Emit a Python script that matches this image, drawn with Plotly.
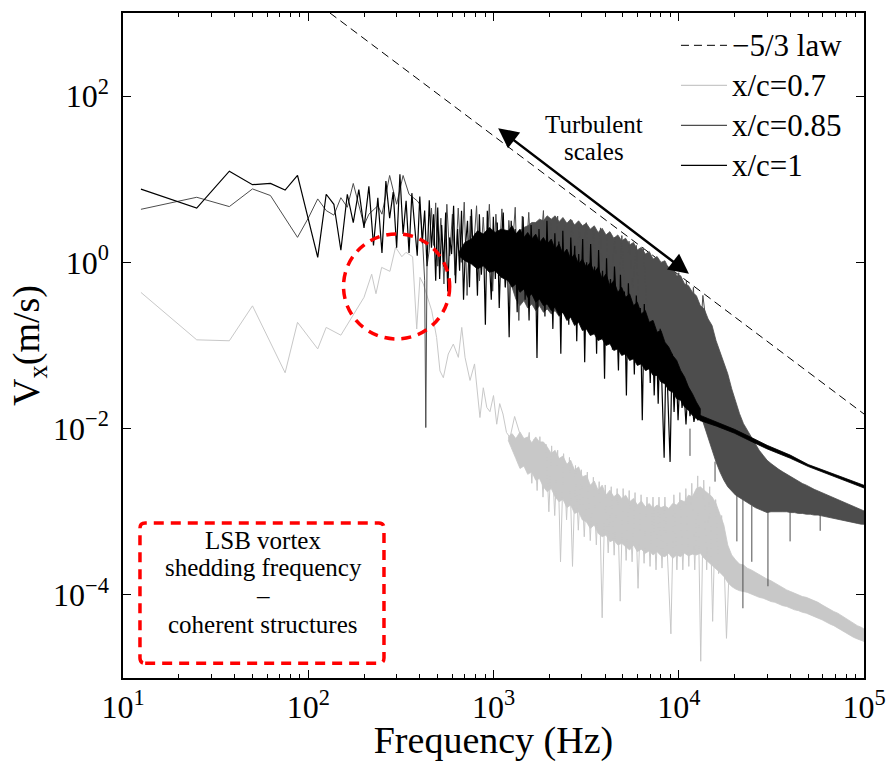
import numpy as np
import plotly.graph_objects as go

# ---------------- data ----------------
# -5/3 law reference line (end points)
law_f = [131, 100000]
law_v = [1000, 0.0150]

# frequency grid of the mid range (Hz) for the x/c=0.85 zig-zag
f_mid = [520, 540, 560, 580, 600, 620, 645, 670, 695, 720, 750, 780, 810, 840, 880, 910, 950, 990,
         1030, 1070, 1110, 1160, 1210, 1260, 1310, 1370, 1430, 1490, 1550, 1620, 1700, 1780, 1860, 1940,
         2030, 2120, 2220, 2320, 2420, 2530, 2650, 2770, 2900, 3030, 3170, 3310, 3460, 3620, 3780, 3950,
         4130, 4320, 4520, 4720, 4930, 5160, 5390, 5640, 5900, 6160, 6440, 6730, 7040, 7360, 7690, 8040,
         8400, 8780, 9180, 9600, 10000, 10500, 11000, 11500, 12000, 12700, 13500, 14500, 15500]

# fine frequency grid (Hz) for the dense part of the x/c=1 curve
f_fine = [500, 512, 525, 538, 552, 566, 580, 594, 609, 624,
          640, 656, 672, 689, 706, 724, 742, 760, 779, 799,
          819, 839, 860, 882, 904, 926, 949, 973, 998, 1023,
          1048, 1074, 1101, 1129, 1157, 1186, 1215, 1246, 1277, 1309,
          1342, 1375, 1409, 1445, 1481, 1518, 1556, 1595, 1634, 1675,
          1717, 1760, 1804, 1849, 1895, 1943, 1991, 2041, 2092, 2144,
          2198, 2253, 2309, 2367, 2426, 2487, 2549, 2613, 2678, 2745,
          2814, 2884, 2956, 3030, 3106, 3183, 3263, 3345, 3428, 3514,
          3602, 3692, 3784, 3879, 3976, 4075, 4177, 4281, 4388, 4498,
          4611, 4726, 4844, 4965, 5089, 5217, 5347, 5481, 5618, 5758,
          5902, 6050, 6201, 6356, 6515, 6678, 6845, 7016, 7192, 7371,
          7556, 7745, 7938, 8137, 8340, 8549, 8762, 8981, 9206, 9436,
          9672, 9914, 10162, 10416, 10676, 10943, 11217, 11497, 11785, 12079,
          12381, 12691, 13008]

# frequency grid on which the envelopes of the noise bands were read
f_band = [1200, 1260, 1320, 1390, 1460, 1530, 1610, 1690, 1770, 1860,
          1950, 2050, 2150, 2260, 2370, 2490, 2610, 2740, 2880, 3020,
          3170, 3330, 3500, 3670, 3860, 4050, 4250, 4460, 4690, 4920,
          5170, 5430, 5700, 5980, 6280, 6600, 6930, 7270, 7640, 8020,
          8420, 8840, 9280, 9750, 10240, 10750, 11290, 11850, 12450, 13070,
          13720, 14410, 15130, 15890, 16680, 17520, 18390, 19310, 20280, 21290,
          22360, 23480, 24650, 25880, 27180, 28540, 29970, 31470, 33040, 34690,
          36430, 38250, 40160, 42170, 44280, 46490, 48820, 51260, 53820, 56510,
          59340, 62300, 65420, 68690, 72130, 75730, 79520, 83500, 87670, 92060,
          96660, 100000]

# ---- x/c = 1 (black)
f10_low = [12.5, 25, 37.5, 50, 62.5, 75, 87.5,
           112.5, 125, 137.5, 150, 162.5, 175, 187.5, 200, 212.5, 225,
           237.5, 250, 262.5, 275, 287.5, 300, 312.5, 325, 337.5, 350,
           362.5, 375, 387.5, 400, 412.5, 425, 437.5, 450, 462.5, 475,
           487.5]
v10_low = [7.6, 4.5, 12.5, 8.6, 8.9, 7.4, 11.1,
           1.15, 6.6, 5.0, 1.4, 6.6, 3.0, 7.5, 2.6, 8.2, 1.6,
           6.0, 1.3, 9.5, 3.4, 7.0, 1.5, 11.5, 2.2, 5.5, 1.3,
           6.8, 2.8, 1.2, 6.2, 1.7, 4.2, 0.9, 5.6, 1.5, 3.8,
           0.6]
# log10 amplitude of the dense part, on f_fine
lg10_fine = [0.66, -0.20, 0.45, -0.05, 0.60, -0.35, 0.30, 0.10, 0.68, -0.25,
             0.40, -0.10, 0.62, -0.45, 0.20, 0.50, -0.30, 0.64, 0.00, 0.35,
             -0.40, 0.58, -0.15, 0.30, -0.75, 0.62, 0.05, -0.45, 0.55, -0.20,
             0.48, -0.55, 0.25, 0.60, -0.30, 0.10, -0.90, 0.50, -0.10, 0.40,
             -0.60, 0.35, -0.20, 0.55, -0.45, 0.15, -0.70, 0.45, -0.05, 0.30,
             -1.15, 0.40, -0.35, 0.20, -0.65, 0.50, -0.25, 0.10, -0.80, 0.35,
             -0.40, 0.25, -1.10, 0.38, -0.55, 0.05, -0.75, 0.30, -0.30, 0.20,
             -0.95, 0.10, -0.50, 0.28, -1.20, 0.00, -0.70, 0.22, -0.45, -0.05,
             -1.10, 0.15, -0.60, -0.10, -1.40, 0.05, -0.80, -0.20, -1.05, -0.05,
             -0.55, -1.30, -0.15, -0.90, -0.35, -1.60, -0.25, -1.00, -0.50, -1.35,
             -0.40, -1.20, -0.55, -1.90, -0.50, -1.30, -0.75, -1.45, -0.70, -1.60,
             -0.85, -1.70, -0.80, -1.50, -2.35, -1.00, -1.75, -2.40, -1.10, -1.80,
             -1.25, -1.90, -1.35, -1.75, -1.55, -1.95, -1.50, -1.85, -1.70, -1.92,
             -1.78, -1.90, -1.84]
# dense core of the black noise: extra grid + first 50 points of f_band (log10 amplitude)
f10_core_pre = [650, 700, 760, 820, 880, 950, 1020, 1100]
lg10_core_top = [0.12, 0.24, 0.28, 0.38, 0.34, 0.42, 0.36, 0.40,
                 0.38, 0.44, 0.34, 0.40, 0.30, 0.36, 0.28, 0.34, 0.24, 0.30,
                 0.22, 0.28, 0.16, 0.22, 0.10, 0.16, 0.04, 0.10, -0.02, 0.04,
                 -0.06, 0.00, -0.12, -0.06, -0.20, -0.14, -0.28, -0.22, -0.36, -0.30,
                 -0.42, -0.38, -0.52, -0.48, -0.62, -0.58, -0.72, -0.70, -0.84, -0.82,
                 -0.96, -1.02, -1.12, -1.18, -1.30, -1.38, -1.50, -1.58, -1.68, -1.76]
lg10_core_bot = [0.08, 0.02, -0.02, -0.08, -0.04, -0.12, -0.10, -0.18,
                 -0.22, -0.30, -0.26, -0.36, -0.32, -0.42, -0.38, -0.48, -0.44, -0.52,
                 -0.50, -0.58, -0.54, -0.64, -0.60, -0.70, -0.66, -0.76, -0.72, -0.82,
                 -0.80, -0.88, -0.86, -0.94, -0.92, -1.00, -0.98, -1.06, -1.04, -1.12,
                 -1.10, -1.18, -1.16, -1.24, -1.22, -1.30, -1.28, -1.36, -1.36, -1.44,
                 -1.46, -1.54, -1.56, -1.64, -1.66, -1.74, -1.78, -1.84, -1.88, -1.90]
f10_tail = [13000, 16000, 20000, 25000, 30000, 40000, 50000, 70000, 100000]
v10_tail_top = [0.0145, 0.0121, 0.0098, 0.0077, 0.0063, 0.0048, 0.0037, 0.0028, 0.00208]
v10_tail_bot = [0.0125, 0.0107, 0.0088, 0.0069, 0.0057, 0.0044, 0.0035, 0.0026, 0.00193]

# ---- x/c = 0.85 (dark grey)
f085_low = [12.5, 25, 37.5, 50, 62.5, 75, 87.5, 100,
            112.5, 125, 137.5, 150, 162.5, 175, 200, 212.5,
            237.5, 250, 275, 300, 325, 350, 387.5, 400,
            412.5, 425, 431, 437.5, 450, 462.5, 475, 487.5,
            500]
v085_low = [4.35, 6.07, 4.69, 7.65, 6.37, 3.33, 2.0, 3.4,
            5.8, 4.2, 3.7, 6.0, 4.6, 8.9, 2.8, 3.8,
            4.8, 3.8, 11.1, 5.0, 11.1, 6.6, 5.5, 5.0,
            2.2, 0.6, 0.0103, 0.9, 1.4, 4.5, 1.6, 5.2,
            0.9]
v085_mid = [3.4, 0.55, 5.0, 1.2, 3.8, 0.7, 4.5, 1.0, 5.3, 0.4, 3.6, 1.4, 4.8, 0.6, 3.5, 1.0, 5.0, 0.45,
            3.8, 1.1, 4.4, 0.5, 3.2, 1.3, 4.6, 0.2, 3.6, 0.9, 4.0, 0.6, 3.0, 1.2, 4.2, 0.4,
            3.0, 1.0, 3.6, 0.28, 2.8, 0.8, 3.2, 0.5, 2.6, 1.0, 3.0, 0.3, 2.4, 0.7, 2.6, 0.2,
            2.2, 0.6, 2.0, 0.35, 2.1, 0.25, 1.8, 0.5, 1.6, 0.15, 1.5, 0.3, 1.2, 0.12, 1.0, 0.25,
            0.9, 0.1, 0.8, 0.2, 0.75, 0.08, 0.6, 0.15, 0.5, 0.05, 0.4, 0.1, 0.03]
# envelope on f_band (log10 amplitude)
lg085_top = [0.20, 0.28, 0.34, 0.38, 0.42, 0.44, 0.48, 0.48, 0.52, 0.50,
             0.56, 0.52, 0.56, 0.49, 0.54, 0.47, 0.52, 0.45, 0.50, 0.44,
             0.47, 0.40, 0.44, 0.36, 0.41, 0.33, 0.37, 0.29, 0.33, 0.26,
             0.29, 0.21, 0.24, 0.15, 0.18, 0.10, 0.13, 0.04, 0.07, 0.00,
             0.02, -0.08, -0.06, -0.16, -0.16, -0.26, -0.28, -0.36, -0.40, -0.52,
             -0.56, -0.68, -0.76, -0.94, -1.08, -1.22, -1.34, -1.52, -1.68, -1.82,
             -1.94, -2.02, -2.10, -2.18, -2.26, -2.32, -2.38, -2.42, -2.46, -2.49,
             -2.52, -2.55, -2.58, -2.60, -2.63, -2.66, -2.68, -2.71, -2.73, -2.75,
             -2.77, -2.79, -2.81, -2.83, -2.85, -2.87, -2.89, -2.91, -2.93, -2.95,
             -2.97, -2.99]
lg085_bot = [-0.10, -0.30, -0.44, -0.52, -0.46, -0.55, -0.50, -0.58, -0.52, -0.60,
             -0.56, -0.62, -0.58, -0.65, -0.60, -0.67, -0.63, -0.70, -0.66, -0.72,
             -0.70, -0.75, -0.72, -0.78, -0.76, -0.82, -0.80, -0.86, -0.84, -0.90,
             -0.90, -0.96, -0.95, -1.01, -1.00, -1.07, -1.07, -1.14, -1.14, -1.20,
             -1.21, -1.28, -1.30, -1.36, -1.40, -1.47, -1.54, -1.62, -1.70, -1.82,
             -1.95, -2.10, -2.25, -2.40, -2.52, -2.62, -2.70, -2.75, -2.80, -2.84,
             -2.87, -2.89, -2.92, -2.95, -2.97, -2.99, -3.01, -3.00, -3.00, -3.00,
             -3.00, -3.00, -3.01, -3.01, -3.02, -3.02, -3.03, -3.03, -3.04, -3.04,
             -3.05, -3.06, -3.07, -3.08, -3.09, -3.10, -3.11, -3.12, -3.13, -3.14,
             -3.15, -3.15]
f085_spk = [11500, 15700, 20600, 22200, 24800, 30300, 39900, 58000]
v085_spk_base = [0.01, 0.004, 0.0016, 0.0014, 0.0012, 0.001, 0.001, 0.00095]
v085_spk_tip = [0.0047, 0.0023, 0.00044, 0.000069, 0.00025, 0.000127, 0.00044, 0.00059]

# ---- x/c = 0.7 (light grey)
f07 = [12.5, 25, 37.5, 50, 75, 87.5, 112.5, 125, 150, 200,
       220, 232, 249, 276, 296, 320, 337, 366, 385, 401,
       418, 464, 493, 514, 536, 570, 607, 646, 674, 702,
       747, 790, 845, 881, 920, 957, 1000, 1041, 1080, 1125,
       1175, 1228, 1300, 1390, 1450, 1511, 1560, 1610, 1660, 1720,
       1780, 1850, 1920, 1990, 2060, 2140, 2220, 2300, 2390, 2480,
       2570, 2670, 2770, 2870, 2980, 3090, 3210, 3330, 3460, 3590,
       3720, 3860, 4010, 4160, 4320, 4480, 4650, 4830, 5010, 5200,
       5400, 5600, 5810, 6030, 6260, 6500, 6740, 7000, 7260, 7540,
       7820, 8120, 8420, 8740, 9070, 9410, 9770, 10140, 10520, 10920,
       11330, 11760, 12200, 12660, 13140, 13640, 14150, 14690, 15240, 15820,
       16420, 17040, 17680, 18100, 18700]
v07 = [0.435, 0.117, 0.114, 0.30, 0.047, 0.19, 0.091, 0.165, 0.133, 0.38,
       0.72, 0.42, 0.87, 0.78, 1.52, 1.17, 1.32, 1.17, 0.158, 0.66,
       0.55, 0.262, 0.125, 0.0495, 0.041, 0.079, 0.104, 0.072, 0.165, 0.072,
       0.038, 0.06, 0.0136, 0.031, 0.018, 0.016, 0.025, 0.0113, 0.02, 0.015,
       0.009, 0.0078, 0.014, 0.0086, 0.004, 0.0059, 0.009, 0.0022, 0.0075, 0.0018,
       0.008, 0.0015, 0.0065, 0.001, 0.0062, 0.0009, 0.0055, 0.00025, 0.005, 0.0008,
       0.0045, 0.00022, 0.0036, 0.0006, 0.0032, 0.0005, 0.003, 0.00045, 0.0026, 0.0004,
       0.0023, 0.000053, 0.0021, 0.00032, 0.002, 0.0003, 0.0019, 0.000084, 0.0019, 0.00026,
       0.0018, 0.00025, 0.0017, 0.00012, 0.0016, 0.00024, 0.0015, 0.00022, 0.0015, 0.0002,
       0.0015, 0.00021, 0.0015, 0.0002, 0.000034, 0.0016, 0.0002, 0.0017, 0.0002, 0.0019,
       0.00022, 0.0022, 0.0002, 0.0027, 0.0000159, 0.0024, 0.0002, 0.002, 0.000048, 0.0014,
       0.00018, 0.0009, 0.00016, 0.00003, 0.0002]
# envelope on f_band (log10 amplitude)
lg07_top = [-2.10, -2.06, -2.12, -2.04, -2.12, -2.10, -2.17, -2.10, -2.16, -2.16,
            -2.22, -2.30, -2.26, -2.36, -2.33, -2.43, -2.38, -2.50, -2.46, -2.58,
            -2.56, -2.68, -2.63, -2.74, -2.68, -2.80, -2.74, -2.82, -2.78, -2.84,
            -2.80, -2.88, -2.84, -2.92, -2.87, -2.94, -2.90, -2.96, -2.92, -2.95,
            -2.93, -2.96, -2.90, -2.92, -2.86, -2.88, -2.80, -2.82, -2.72, -2.70,
            -2.74, -2.78, -2.82, -2.90, -3.02, -3.16, -3.40, -3.52, -3.58, -3.63,
            -3.64, -3.68, -3.70, -3.73, -3.75, -3.78, -3.81, -3.83, -3.86, -3.89,
            -3.92, -3.94, -3.96, -3.98, -4.00, -4.02, -4.03, -4.05, -4.07, -4.09,
            -4.12, -4.15, -4.17, -4.20, -4.22, -4.25, -4.28, -4.31, -4.34, -4.37,
            -4.39, -4.41]
lg07_bot = [-2.14, -2.26, -2.36, -2.48, -2.45, -2.55, -2.52, -2.62, -2.60, -2.70,
            -2.76, -2.72, -2.82, -2.88, -2.85, -2.95, -2.92, -3.02, -3.00, -3.10,
            -3.12, -3.20, -3.16, -3.26, -3.30, -3.28, -3.36, -3.34, -3.40, -3.38,
            -3.42, -3.46, -3.40, -3.48, -3.45, -3.50, -3.47, -3.52, -3.48, -3.53,
            -3.54, -3.50, -3.56, -3.52, -3.54, -3.50, -3.53, -3.51, -3.52, -3.50,
            -3.56, -3.60, -3.64, -3.69, -3.73, -3.78, -3.85, -3.90, -3.93, -3.95,
            -3.96, -3.97, -3.99, -4.01, -4.03, -4.04, -4.06, -4.08, -4.09, -4.11,
            -4.13, -4.14, -4.16, -4.18, -4.19, -4.21, -4.22, -4.24, -4.26, -4.28,
            -4.30, -4.32, -4.35, -4.37, -4.40, -4.42, -4.45, -4.48, -4.51, -4.53,
            -4.55, -4.56]

# annotation anchors (data units)
arrow_f = [1040, 11350]
arrow_v = [42.4, 0.73]
circle_f = [155, 580]
circle_v = [0.12, 2.2]

legend_names = ["\u22125/3 law", "x/c=0.7", "x/c=0.85", "x/c=1"]

# ---------------- styling ----------------
C07, C085, C10 = "#c8c8c8", "#4d4d4d", "#000000"
FONT = "Liberation Serif"
RED = "#ff0000"


def band(f, top, bot, color):
    return go.Scatter(x=list(f) + list(f)[::-1], y=list(top) + list(bot)[::-1],
                      mode="lines", fill="toself", fillcolor=color,
                      line=dict(color=color, width=0.8), showlegend=False, hoverinfo="skip")


def spikes(f, base, tip, color):
    xs, ys = [], []
    for a, b, c in zip(f, base, tip):
        xs += [a, a, None]
        ys += [b, c, None]
    return go.Scatter(x=xs, y=ys, mode="lines", line=dict(color=color, width=1),
                      showlegend=False, hoverinfo="skip")


def pow10(a):
    return list(10.0 ** np.asarray(a))


fig = go.Figure()
fig.add_trace(go.Scatter(x=law_f, y=law_v, mode="lines", name=legend_names[0], showlegend=False,
                         line=dict(color="black", width=1, dash="8px,5px")))
# x/c = 0.7
fig.add_trace(band(f_band, pow10(lg07_top), pow10(lg07_bot), C07))
fig.add_trace(go.Scatter(x=f07, y=v07, mode="lines", name=legend_names[1], showlegend=False,
                         line=dict(color=C07, width=1)))
# x/c = 0.85
fig.add_trace(band(f_band, pow10(lg085_top), pow10(lg085_bot), C085))
fig.add_trace(go.Scatter(x=f085_low + f_mid, y=v085_low + v085_mid, mode="lines", name=legend_names[2],
                         showlegend=False, line=dict(color=C085, width=1)))
fig.add_trace(spikes(f085_spk, v085_spk_base, v085_spk_tip, C085))
# x/c = 1
fig.add_trace(band(f10_core_pre + f_band[:50], pow10(lg10_core_top), pow10(lg10_core_bot), C10))
fig.add_trace(go.Scatter(x=f10_low + f_fine, y=v10_low + pow10(lg10_fine), mode="lines", name=legend_names[3],
                         showlegend=False, line=dict(color=C10, width=1.2)))
fig.add_trace(band(f10_tail, v10_tail_top, v10_tail_bot, C10))

x_major = [10, 100, 1000, 10000, 100000]
x_text = ["10<sup>1</sup>", "10<sup>2</sup>", "10<sup>3</sup>", "10<sup>4</sup>", "10<sup>5</sup>"]
x_minor = [m * 10 ** k for k in range(1, 5) for m in range(2, 10)]
y_major = [1e-4, 1e-2, 1, 100]
y_text = ["10<sup>\u22124</sup>", "10<sup>\u22122</sup>", "10<sup>0</sup>", "10<sup>2</sup>"]

axis_common = dict(showline=True, linecolor="black", linewidth=1.5, mirror="ticks", ticks="inside",
                   ticklen=8, tickwidth=1, tickcolor="black", showgrid=False, zeroline=False,
                   automargin=False, tickfont=dict(family=FONT, size=32, color="black"))

fig.update_layout(
    width=888, height=762,
    margin=dict(l=123, r=24, t=13, b=84),
    paper_bgcolor="white", plot_bgcolor="white",
    font=dict(family=FONT, color="black"),
    xaxis=dict(type="log", range=[1, 5], tickvals=x_major, ticktext=x_text,
               minor=dict(ticks="inside", ticklen=4, tickvals=x_minor, tickcolor="black", showgrid=False),
               title=dict(text="Frequency (Hz)", font=dict(family=FONT, size=38), standoff=3),
               **axis_common),
    yaxis=dict(type="log", range=[-5, 3], tickvals=y_major, ticktext=y_text, ticklabelstandoff=6,
               title=dict(text="V<sub>x</sub>(m/s)", font=dict(family=FONT, size=38), standoff=2),
               **axis_common),
    showlegend=False,
)

# red dashed circle around the shedding peak (data units on log axes)
fig.add_shape(type="circle", xref="x", yref="y",
              x0=circle_f[0], x1=circle_f[1], y0=circle_v[0], y1=circle_v[1],
              line=dict(color=RED, width=3.5, dash="10px,7px"))

# red dashed rounded box (paper coordinates)
bx0, bx1, by0, by1 = 0.0229, 0.3522, 0.0221, 0.2331
rx, ry = 0.007, 0.0078
path = (f"M {bx0+rx},{by0} L {bx1-rx},{by0} Q {bx1},{by0} {bx1},{by0+ry} "
        f"L {bx1},{by1-ry} Q {bx1},{by1} {bx1-rx},{by1} L {bx0+rx},{by1} "
        f"Q {bx0},{by1} {bx0},{by1-ry} L {bx0},{by0+ry} Q {bx0},{by0} {bx0+rx},{by0} Z")
fig.add_shape(type="path", xref="paper", yref="paper", path=path,
              line=dict(color=RED, width=3.5, dash="10px,7px"))

box_lines = ["LSB vortex", "shedding frequency", "\u2013", "coherent structures"]
box_y = [0.2071, 0.1656, 0.1244, 0.0803]
for t, yy in zip(box_lines, box_y):
    fig.add_annotation(text=t, xref="paper", yref="paper", x=0.189, y=yy, showarrow=False,
                       font=dict(family=FONT, size=25, color="black"), xanchor="center", yanchor="middle")

for t, yy in zip(["Turbulent", "scales"], [0.832, 0.791]):
    fig.add_annotation(text=t, xref="paper", yref="paper", x=0.6356, y=yy, showarrow=False,
                       font=dict(family=FONT, size=25, color="black"), xanchor="center", yanchor="middle")

# double-headed arrow
fig.add_annotation(x=np.log10(arrow_f[1]), y=np.log10(arrow_v[1]),
                   ax=np.log10(arrow_f[0]), ay=np.log10(arrow_v[0]),
                   xref="x", yref="y", axref="x", ayref="y", text="", showarrow=True,
                   arrowhead=2, startarrowhead=2, arrowside="end+start",
                   arrowwidth=2.5, arrowsize=1.6, startarrowsize=1.6, arrowcolor="black")

# legend (drawn inside the axes, top right)
leg_y = [0.9514, 0.8913, 0.8311, 0.7709]
leg_styles = [dict(color="black", width=1, dash="8px,5px"), dict(color=C07, width=1.2),
              dict(color=C085, width=1.2), dict(color=C10, width=1.2)]
for name, yy, st in zip(legend_names, leg_y, leg_styles):
    fig.add_shape(type="line", xref="paper", yref="paper", x0=0.7530, x1=0.8151, y0=yy, y1=yy, line=st)
    fig.add_annotation(text=name, xref="paper", yref="paper", x=0.8190, y=yy, showarrow=False,
                       xanchor="left", yanchor="middle", font=dict(family=FONT, size=31, color="black"))

fig.write_html("out.html")
